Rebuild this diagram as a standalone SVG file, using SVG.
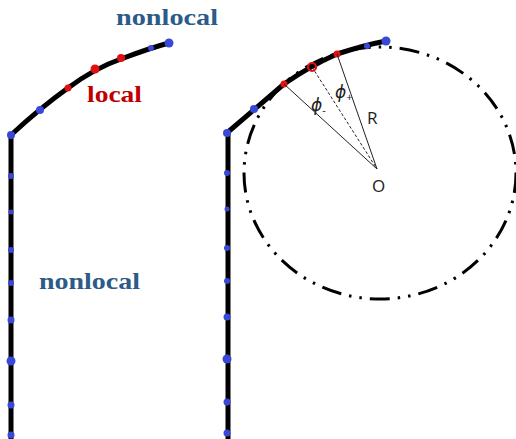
<svg xmlns="http://www.w3.org/2000/svg" width="516" height="439" viewBox="0 0 516 439">
<style>
.rod{fill:none;stroke:#000;stroke-width:5;stroke-linecap:round;stroke-linejoin:round}
.b{fill:#3a48d8}
.r{fill:#e01010}
.lbl{font-family:"Liberation Serif",serif;font-weight:bold;font-size:24px}
.nl{fill:#2b5b86}
.lc{fill:#c00000}
.thin{stroke:#222;stroke-width:1;fill:none}
.ann{font-family:"Open Sans","DejaVu Sans",sans-serif;font-size:17px;fill:#222}
</style>
<rect width="516" height="439" fill="#fff"/>
<g id="circle">
<ellipse cx="380" cy="173" rx="136" ry="126" fill="none" stroke="#000" stroke-width="3" stroke-dasharray="20 8 2.5 8 2.5 8"/>
</g>
<g id="left-rod">
<path class="rod" d="M11,439 L11,135 Q40,108 68,88 Q95,68 121,59 Q150,48 169,43"/>
<circle class="b" cx="11" cy="135" r="4"/>
<circle class="b" cx="40" cy="110" r="4"/>
<circle class="r" cx="68" cy="88" r="3.5"/>
<circle class="r" cx="95" cy="69" r="4.5"/>
<circle class="r" cx="121" cy="58" r="4"/>
<circle class="b" cx="151" cy="48" r="3"/>
<circle class="b" cx="169" cy="43" r="4.5"/>
<circle class="b" cx="11" cy="176" r="3"/>
<circle class="b" cx="11" cy="212" r="2.5"/>
<circle class="b" cx="11" cy="250" r="3"/>
<circle class="b" cx="11" cy="283" r="3"/>
<circle class="b" cx="11" cy="320" r="3.5"/>
<circle class="b" cx="11" cy="361" r="4.5"/>
<circle class="b" cx="11" cy="405" r="3.5"/>
<circle class="b" cx="11" cy="435" r="3.5"/>
</g>
<g id="right-rod">
<path class="rod" d="M228,439 L228,132 Q256,108 284,84 Q310,66 337,54 Q365,45 386,41"/>
<circle class="b" cx="227" cy="133" r="4"/>
<circle class="b" cx="254" cy="109" r="4"/>
<circle class="r" cx="284" cy="84" r="3.5"/>
<circle cx="312" cy="67" r="4" fill="none" stroke="#e01010" stroke-width="2.2"/>
<circle class="r" cx="337" cy="54" r="3.5"/>
<circle class="b" cx="367" cy="46" r="3"/>
<circle class="b" cx="386" cy="41" r="4.5"/>
<circle class="b" cx="227" cy="173" r="3"/>
<circle class="b" cx="227" cy="209" r="2.5"/>
<circle class="b" cx="227" cy="248" r="3"/>
<circle class="b" cx="227" cy="281" r="3"/>
<circle class="b" cx="227" cy="317" r="3.5"/>
<circle class="b" cx="227" cy="359" r="4.5"/>
<circle class="b" cx="227" cy="402" r="3.5"/>
<circle class="b" cx="227" cy="433" r="3.5"/>
</g>
<g id="radii">
<line class="thin" x1="284" y1="84" x2="377" y2="169"/>
<line class="thin" x1="312" y1="67" x2="377" y2="169" stroke-dasharray="3 2"/>
<line class="thin" x1="337" y1="54" x2="377" y2="169"/>
</g>
<g id="labels">
<text class="lbl nl" x="116" y="25" textLength="102" lengthAdjust="spacingAndGlyphs">nonlocal</text>
<text class="lbl lc" x="87" y="102" textLength="55" lengthAdjust="spacingAndGlyphs">local</text>
<text class="lbl nl" x="39" y="289" textLength="101" lengthAdjust="spacingAndGlyphs">nonlocal</text>
<text class="ann" x="311" y="111" font-style="italic">ϕ<tspan font-size="11" dy="3" font-style="normal">-</tspan></text>
<text class="ann" x="335" y="98" font-style="italic">ϕ<tspan font-size="11" dy="3" font-style="normal">+</tspan></text>
<text class="ann" x="367" y="124">R</text>
<text class="ann" x="372" y="192" font-size="19">O</text>
</g>
</svg>
